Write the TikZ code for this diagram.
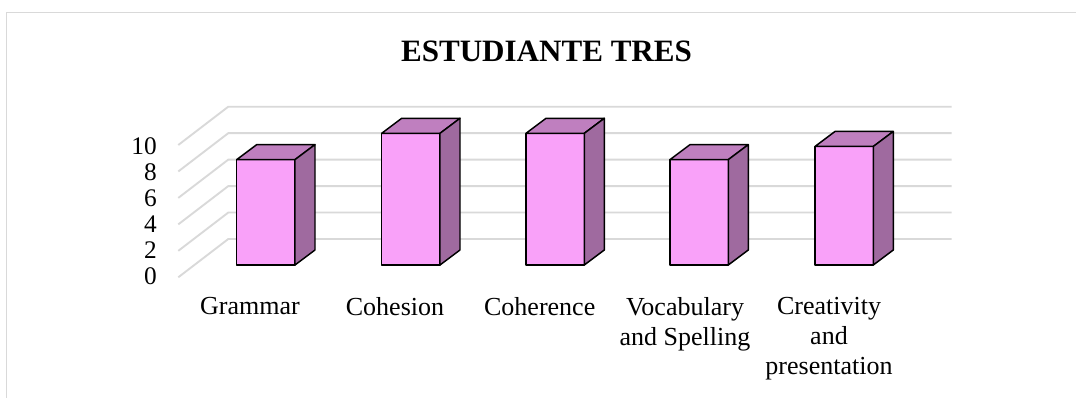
\documentclass[tikz,border=0pt]{standalone}
\usepackage{fontspec}
\setmainfont{Liberation Serif}
\definecolor{gridgray}{HTML}{D9D9D9}
\definecolor{barfront}{HTML}{F9A1F9}
\definecolor{bartop}{HTML}{BF7FBF}
\definecolor{barside}{HTML}{9F6A9F}
\tikzset{
  gridline/.style={draw=gridgray, line width=1.4pt},
  frameline/.style={draw=gridgray, line width=1.1pt},
  barface/.style={draw=black, line width=1.1pt, line join=round},
  catlabel/.style={anchor=north, align=center, inner sep=0pt, font=\fontsize{19.5}{22.5}\selectfont},
  axlabel/.style={anchor=base east, inner sep=0pt, font=\fontsize{19}{22}\selectfont},
  titlelabel/.style={anchor=base, inner sep=0pt, font=\fontsize{23.3}{27}\selectfont\bfseries}
}
\begin{document}
\begin{tikzpicture}[x=0.75pt, y=-0.75pt]
\useasboundingbox (0,0) rectangle (1076,398);
\fill[white] (0,0) rectangle (1076,398);
% frame
\draw[frameline] (6.5,400) -- (6.5,12.3) -- (1080,12.3);
% title
\node[titlelabel] (title) at (546.5,61.7) {ESTUDIANTE TRES};
% gridlines
\foreach \k in {0,...,5} {
  \pgfmathsetmacro{\yb}{106.7+26.46*\k}
  \draw[gridline] (178.3,\yb+38.3) -- (228.3,\yb) -- (951.7,\yb);
}
% axis labels
\foreach \v [count=\i from 0] in {10,8,6,4,2,0} {
  \node[axlabel] (ax\v) at (157,155+26*\i) {\v};
}
% bars
\foreach \xl/\v [count=\n] in {236.7/8, 381.7/10, 526/10, 670/8, 815/9} {
  \pgfmathsetmacro{\yt}{265-13.17*\v}
  \pgfmathsetmacro{\xr}{\xl+58.3}
  \coordinate (b\n fl) at (\xl,265);
  \coordinate (b\n fr) at (\xr,265);
  \coordinate (b\n tl) at (\xl,\yt);
  \coordinate (b\n tr) at (\xr,\yt);
  \filldraw[barface, fill=barfront] (b\n fl) -- (b\n fr) -- (b\n tr) -- (b\n tl) -- cycle;
  \filldraw[barface, fill=bartop] (b\n tl) -- (b\n tr) -- ++(20,-15) -- ([shift={(20,-15)}]b\n tl) -- cycle;
  \filldraw[barface, fill=barside] (b\n fr) -- (b\n tr) -- ++(20,-15) -- ([shift={(20,-15)}]b\n fr) -- cycle;
}
% category labels
\node[catlabel] (c1) at (250,297.5) {Grammar};
\node[catlabel] (c2) at (395,297.5) {Cohesion};
\node[catlabel] (c3) at (539.7,297.5) {Coherence};
\node[catlabel] (c4) at (685,297) {Vocabulary\\and Spelling};
\node[catlabel] (c5) at (829,297.5) {Creativity\\and\\presentation};
\end{tikzpicture}
\end{document}
